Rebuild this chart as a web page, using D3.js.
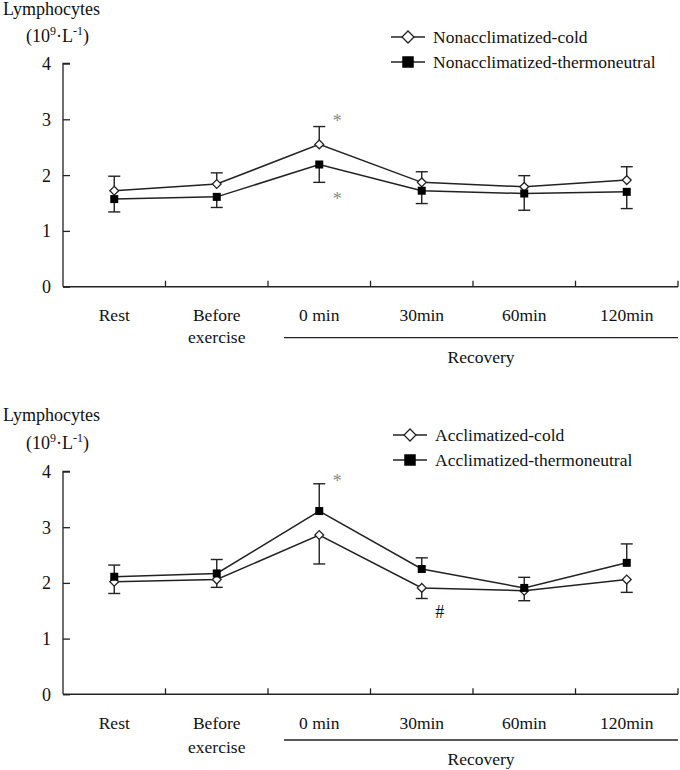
<!DOCTYPE html>
<html><head><meta charset="utf-8">
<script src="https://cdn.jsdelivr.net/npm/d3@7"></script>
<style>
body{margin:0;background:#fff;}
svg text{font-family:'Liberation Serif','Times New Roman','DejaVu Serif',serif;fill:#111;}
</style></head>
<body>
<svg id="c" width="680" height="770" font-family="Liberation Serif, Times New Roman, serif"></svg>
<script>
// ---- data ----
const categories = [["Rest"], ["Before", "exercise"], ["0 min"], ["30min"], ["60min"], ["120min"]];
const yTicks = [0, 1, 2, 3, 4];
const recoveryLabel = "Recovery";

const topSeriesNames = ["Nonacclimatized-cold", "Nonacclimatized-thermoneutral"];
const topCold = [1.72, 1.84, 2.55, 1.87, 1.79, 1.91];
const topColdErr = [0.26, 0.20, 0.32, 0.19, 0.20, 0.24];
const topThermo = [1.57, 1.61, 2.19, 1.72, 1.67, 1.70];
const topThermoErr = [0.23, 0.19, 0.32, 0.23, 0.30, 0.30];
const topMarks = [{cat: 2, v: 3.03, t: "*"}, {cat: 2, v: 1.62, t: "*"}];

const botSeriesNames = ["Acclimatized-cold", "Acclimatized-thermoneutral"];
const botCold = [2.02, 2.06, 2.86, 1.91, 1.86, 2.06];
const botColdErr = [0.21, 0.14, 0.52, 0.19, 0.18, 0.23];
const botThermo = [2.11, 2.17, 3.29, 2.25, 1.91, 2.36];
const botThermoErr = [0.21, 0.25, 0.49, 0.20, 0.19, 0.34];
const botMarks = [{cat: 2, v: 3.88, t: "*"}, {cat: 3, v: 1.48, t: "#"}];

// ---- drawing ----
const FONT = "'Liberation Serif', 'Times New Roman', 'DejaVu Serif', serif";
const FS = 17.5;
const svg = d3.select("#c");
const INK = "#222";

const panels = [
  {y0: 286.7, y4: 63.5, title: 15, unit: 42, legY: 37, legX: 391,
   names: topSeriesNames, cold: topCold, coldErr: topColdErr, coldDir: 1,
   thermo: topThermo, thermoErr: topThermoErr, thermoDir: -1, marks: topMarks,
   lab: 34.5, lab2: 56, recLine: 51, recText: 76},
  {y0: 694.3, y4: 471.5, title: 421, unit: 449, legY: 435, legX: 393,
   names: botSeriesNames, cold: botCold, coldErr: botColdErr, coldDir: -1,
   thermo: botThermo, thermoErr: botThermoErr, thermoDir: 1, marks: botMarks,
   lab: 34.5, lab2: 59, recLine: 45.7, recText: 71}
];

const x = d3.scaleBand().domain(d3.range(categories.length)).range([63, 678]).padding(0);

function diamond(g, cx, cy, r) {
  g.append("path")
    .attr("d", `M${cx},${cy - r}L${cx + r},${cy}L${cx},${cy + r}L${cx - r},${cy}Z`)
    .attr("fill", "#fff").attr("stroke", INK).attr("stroke-width", 1.3);
}
function square(g, cx, cy, s) {
  g.append("rect").attr("x", cx - s / 2).attr("y", cy - s / 2)
    .attr("width", s).attr("height", s).attr("fill", "#000");
}
function txt(g, xx, yy, size) {
  return g.append("text").attr("x", xx).attr("y", yy)
    .attr("font-family", FONT).attr("font-size", size);
}

panels.forEach(p => {
  const g = svg.append("g");
  const y = d3.scaleLinear().domain([0, 4]).range([p.y0, p.y4]);

  // y axis title
  txt(g, 3, p.title, 18).text("Lymphocytes");
  const u = txt(g, 26, p.unit, 18);
  u.append("tspan").text("(10");
  u.append("tspan").attr("font-size", 12).attr("dy", -7).text("9");
  u.append("tspan").attr("font-size", 18).attr("dy", 7).text("·L");
  u.append("tspan").attr("font-size", 12).attr("dy", -7).text("-1");
  u.append("tspan").attr("font-size", 18).attr("dy", 7).text(")");

  // y axis
  const ya = g.append("g").attr("transform", "translate(63,0)")
    .call(d3.axisRight(y).tickValues(yTicks).tickSize(7).tickFormat(""));
  ya.select(".domain").attr("d", `M7,${p.y4}H0V${p.y0}`).attr("stroke", INK).attr("stroke-width", 1.3);
  ya.selectAll(".tick line").attr("stroke", INK).attr("stroke-width", 1.3);
  yTicks.forEach(d => {
    txt(g, 51, y(d) + 6.5, 18).attr("text-anchor", "end").text(d);
  });

  // x axis
  const bounds = x.domain().map(i => x(i)).concat([x.range()[1]]);
  g.append("line").attr("x1", 63).attr("x2", 678).attr("y1", p.y0).attr("y2", p.y0)
    .attr("stroke", INK).attr("stroke-width", 1.5);
  g.selectAll(".xt").data(bounds.slice(1)).join("line")
    .attr("x1", d => d).attr("x2", d => d).attr("y1", p.y0).attr("y2", p.y0 - 6)
    .attr("stroke", INK).attr("stroke-width", 1.3);
  categories.forEach((lines, i) => {
    lines.forEach((t, j) => {
      txt(g, x(i) + x.bandwidth() / 2, p.y0 + (j === 0 ? p.lab : p.lab2), FS)
        .attr("text-anchor", "middle").text(t);
    });
  });
  g.append("line").attr("x1", 284).attr("x2", 678)
    .attr("y1", p.y0 + p.recLine).attr("y2", p.y0 + p.recLine)
    .attr("stroke", INK).attr("stroke-width", 1.3);
  txt(g, 481, p.y0 + p.recText, FS).attr("text-anchor", "middle").text(recoveryLabel);

  const cx = i => x(i) + x.bandwidth() / 2;
  const line = d3.line().x((d, i) => cx(i)).y(d => y(d));

  const series = [
    {vals: p.cold, err: p.coldErr, dir: p.coldDir, kind: "d"},
    {vals: p.thermo, err: p.thermoErr, dir: p.thermoDir, kind: "s"}
  ];
  series.forEach(s => {
    g.append("path").datum(s.vals).attr("d", line).attr("fill", "none")
      .attr("stroke", INK).attr("stroke-width", 1.5);
  });
  series.forEach(s => {
    s.vals.forEach((v, i) => {
      const e = v + s.dir * s.err[i];
      g.append("line").attr("x1", cx(i)).attr("x2", cx(i)).attr("y1", y(v)).attr("y2", y(e))
        .attr("stroke", INK).attr("stroke-width", 1.4);
      g.append("line").attr("x1", cx(i) - 6).attr("x2", cx(i) + 6).attr("y1", y(e)).attr("y2", y(e))
        .attr("stroke", INK).attr("stroke-width", 1.4);
    });
  });
  series.forEach(s => {
    s.vals.forEach((v, i) => {
      if (s.kind === "d") diamond(g, cx(i), y(v), 4.4);
      else square(g, cx(i), y(v), 8);
    });
  });

  // significance marks
  p.marks.forEach(m => {
    txt(g, cx(m.cat) + 18, y(m.v) + (m.t === "*" ? 9 : 6), 18)
      .attr("text-anchor", "middle")
      .style("fill", m.t === "*" ? "#888" : "#111").text(m.t);
  });

  // legend
  p.names.forEach((n, k) => {
    const ly = p.legY + k * 25;
    g.append("line").attr("x1", p.legX).attr("x2", p.legX + 34).attr("y1", ly).attr("y2", ly)
      .attr("stroke", INK).attr("stroke-width", 1.5);
    if (k === 0) diamond(g, p.legX + 17, ly, 6);
    else square(g, p.legX + 17, ly, 11.5);
    txt(g, p.legX + 42, ly + 6, FS).text(n);
  });
});
</script>
</body></html>
